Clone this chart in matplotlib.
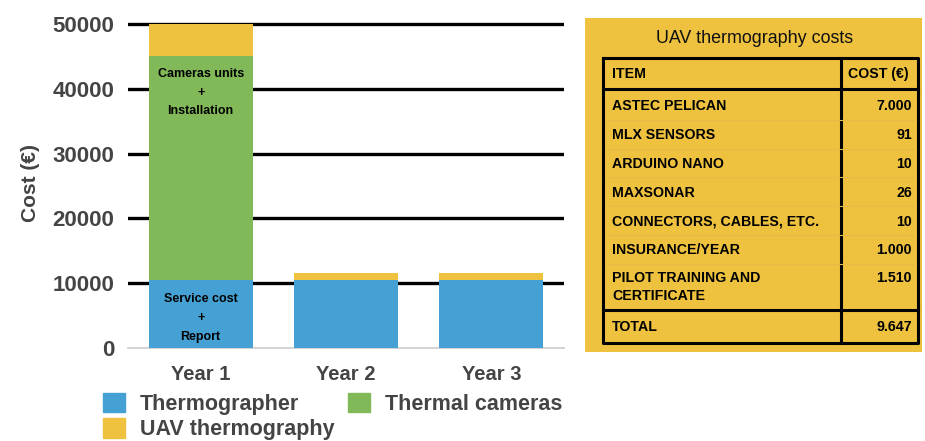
import matplotlib.pyplot as plt
from matplotlib.patches import Patch, Rectangle

plt.rcParams['font.family'] = ['Liberation Sans', 'DejaVu Sans']

# Data
years = ['Year 1', 'Year 2', 'Year 3']
thermographer = [10500, 10500, 10500]
thermal_cameras = [34500, 0, 0]
uav = [5000, 1100, 1100]

items = ['ASTEC PELICAN', 'MLX SENSORS', 'ARDUINO NANO', 'MAXSONAR',
         'CONNECTORS, CABLES, ETC.', 'INSURANCE/YEAR', 'PILOT TRAINING AND\nCERTIFICATE']
costs = ['7.000', '91', '10', '26', '10', '1.000', '1.510']
total = '9.647'

BLUE = '#45a0d4'
GREEN = '#81b958'
YELLOW = '#eec23f'
GREY = '#444444'

W, H = 925, 441
fig = plt.figure(figsize=(W / 100, H / 100), dpi=100)

# --- bar chart ---
ymax = 50000
top_px, zero_px = 24, 348
ppu = (zero_px - top_px) / ymax
ylim_top = 51000
ax = fig.add_axes([128 / W, (H - zero_px) / H, 436 / W, ylim_top * ppu / H])
x = range(len(years))
bw = 0.715
ax.bar(x, thermographer, bw, color=BLUE, zorder=3)
ax.bar(x, thermal_cameras, bw, bottom=thermographer, color=GREEN, zorder=3)
base = [a + b for a, b in zip(thermographer, thermal_cameras)]
ax.bar(x, uav, bw, bottom=base, color=YELLOW, zorder=3)

ax.set_xlim(-0.5, 2.5)
ax.set_ylim(0, ylim_top)
ax.set_yticks(range(0, 50001, 10000))
for v in range(10000, 50001, 10000):
    ax.axhline(v, color='black', lw=2.4, zorder=1)
ax.axhline(0, color='#cccccc', lw=1.2, zorder=1, clip_on=False)
for s in ax.spines.values():
    s.set_visible(False)
ax.tick_params(length=0)
ax.tick_params(axis='y', pad=10)
ax.tick_params(axis='x', pad=12)
ax.set_xticks(list(x))
ax.set_xticklabels(years, fontsize=14.5, fontweight='bold', color=GREY)
for lab in ax.get_yticklabels():
    lab.set_fontsize(16)
    lab.set_fontweight('bold')
    lab.set_color(GREY)
ax.set_ylabel('Cost (€)', fontsize=15, fontweight='bold', color=GREY, labelpad=9)

# annotations inside first bar
ax.text(0, 39400, 'Cameras units\n+\nInstallation', ha='center', va='center',
        fontsize=9, fontweight='bold', linespacing=1.75, zorder=4)
ax.text(0, 4600, 'Service cost\n+\nReport', ha='center', va='center',
        fontsize=9, fontweight='bold', linespacing=1.75, zorder=4)

# legend
handles = [Patch(color=BLUE, label='Thermographer'),
           Patch(color=YELLOW, label='UAV thermography'),
           Patch(color=GREEN, label='Thermal cameras')]
leg = fig.legend(handles=handles, ncol=2, loc='upper left',
                 bbox_to_anchor=(103 / W, (H - 393) / H), frameon=False,
                 fontsize=15.5, handlelength=1.0, handleheight=1.0,
                 handletextpad=0.7, labelspacing=0.15, columnspacing=0.65,
                 borderpad=0, borderaxespad=0)
for t in leg.get_texts():
    t.set_fontweight('bold')
    t.set_color(GREY)

# --- cost table ---
tx0, ty0, tx1, ty1 = 585, 18, 922, 352
tax = fig.add_axes([tx0 / W, (H - ty1) / H, (tx1 - tx0) / W, (ty1 - ty0) / H])
tax.set_xlim(tx0, tx1)
tax.set_ylim(ty1, ty0)
tax.axis('off')
tax.add_patch(Rectangle((tx0, ty0), tx1 - tx0, ty1 - ty0, color=YELLOW, zorder=0))
tax.text((tx0 + tx1) / 2 + 1, 39, 'UAV thermography costs', ha='center', va='center',
         fontsize=12.9, color='#111111')

L, R, C = 603, 918, 841
T, HB, TB, B = 58, 89, 310, 343
kw = dict(color='black', lw=2.2, solid_capstyle='projecting')
tax.plot([L, R, R, L, L], [T, T, B, B, T], **kw)
tax.plot([C, C], [T, B], **kw)
tax.plot([L, R], [HB, HB], **kw)
tax.plot([L, R], [TB, TB], **kw)

fs = 10.2
tax.text(612, (T + HB) / 2 + 1, 'ITEM', ha='left', va='center', fontsize=fs, fontweight='bold')
tax.text(848, (T + HB) / 2 + 1, 'COST (€)', ha='left', va='center', fontsize=fs, fontweight='bold')

row_h = 28.8
top = HB + 2
for i, (it, c) in enumerate(zip(items, costs)):
    rt = top + i * row_h
    if '\n' in it:
        tax.text(612, rt + 7, it, ha='left', va='top', fontsize=fs, fontweight='bold',
                 linespacing=1.35)
        tax.text(912, rt + 7, c, ha='right', va='top', fontsize=fs, fontweight='bold')
    else:
        tax.text(612, rt + row_h / 2 + 1, it, ha='left', va='center', fontsize=fs, fontweight='bold')
        tax.text(912, rt + row_h / 2 + 1, c, ha='right', va='center', fontsize=fs, fontweight='bold')
        tax.plot([L + 2, R - 2], [rt + row_h, rt + row_h], color='#e3bb45', lw=0.8)
tax.text(612, (TB + B) / 2 + 1, 'TOTAL', ha='left', va='center', fontsize=fs, fontweight='bold')
tax.text(912, (TB + B) / 2 + 1, total, ha='right', va='center', fontsize=fs, fontweight='bold')

fig.savefig('out.png', dpi=100)
